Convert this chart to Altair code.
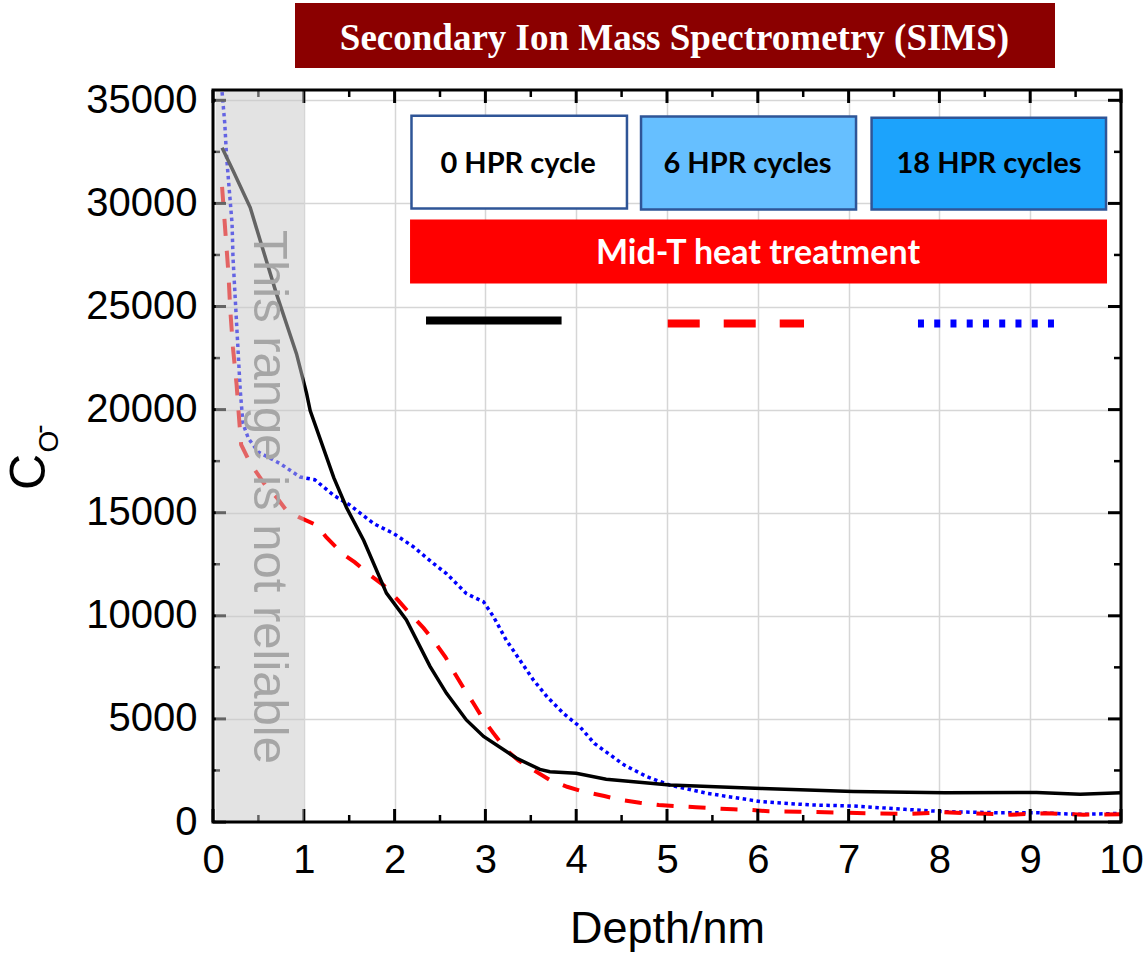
import altair as alt
import pandas as pd

# ---------------- data ----------------
black_x = [0.10, 0.22, 0.41, 0.52, 0.70, 0.92, 1.03, 1.07, 1.33, 1.47, 1.66, 1.91, 2.13, 2.39,
           2.57, 2.79, 2.98, 3.34, 3.60, 3.71, 4.00, 4.33, 5.03, 6.04, 7.05, 8.06, 9.07, 9.55, 10.0]
black_y = [32700, 31600, 29800, 28200, 25600, 22700, 20800, 19950, 16700, 15250, 13650, 11100, 9800, 7550,
           6250, 4950, 4150, 3100, 2550, 2440, 2360, 2070, 1800, 1630, 1480, 1420, 1430, 1350, 1420]

red_x = [0.10, 0.14, 0.17, 0.19, 0.22, 0.26, 0.29, 0.31, 0.41, 0.59, 0.70, 0.81, 0.94, 1.14, 1.25,
         1.43, 1.56, 1.73, 1.88, 2.04, 2.15, 2.32, 2.43, 2.56, 2.65, 2.76, 2.87, 2.98, 3.09, 3.23,
         3.36, 3.53, 3.71, 3.90, 4.08, 4.31, 4.49, 4.70, 4.91, 5.11, 5.32, 5.52, 5.73, 5.93, 6.12,
         6.45, 6.85, 7.25, 7.65, 8.05, 8.37, 8.78, 9.18, 9.59, 10.0]
red_y = [30800, 28400, 26600, 24850, 23000, 21200, 19400, 18300, 17400, 16250, 15750, 15100, 14800, 14400, 13800,
         13000, 12600, 11970, 11480, 10750, 10200, 9400, 8800, 8000, 7300, 6500, 5750, 4950, 4300, 3500,
         3000, 2520, 2040, 1710, 1470, 1260, 1070, 935, 825, 770, 712, 663, 615, 580, 520,
         500, 460, 420, 390, 470, 420, 355, 420, 355, 380]

blue_x = [0.10, 0.13, 0.15, 0.18, 0.21, 0.22, 0.24, 0.26, 0.28, 0.30, 0.33, 0.39, 0.50, 0.74, 0.96,
          1.12, 1.33, 1.51, 1.77, 1.99, 2.21, 2.43, 2.57, 2.79, 2.98, 3.09, 3.23, 3.38, 3.53, 3.68,
          3.86, 4.04, 4.20, 4.53, 4.78, 5.03, 5.44, 6.04, 6.59, 7.05, 7.62, 8.06, 8.65, 9.07, 9.55, 10.0]
blue_y = [35400, 33850, 32230, 30620, 29010, 27390, 25780, 24160, 22540, 20930, 19320, 18600, 17940, 17380, 16730,
          16600, 15840, 15360, 14470, 13990, 13340, 12530, 12050, 11080, 10675, 9950, 8820, 7850, 6880, 6070,
          5265, 4620, 3810, 2760, 2195, 1790, 1390, 985, 825, 775, 615, 500, 450, 450, 370, 420]

x_major = [0, 1, 2, 3, 4, 5, 6, 7, 8, 9, 10]
x_minor = [0.5, 1.5, 2.5, 3.5, 4.5, 5.5, 6.5, 7.5, 8.5, 9.5]
y_major = [0, 5000, 10000, 15000, 20000, 25000, 30000, 35000]
y_minor = [2500, 7500, 12500, 17500, 22500, 27500, 32500]

series_labels = ["0 HPR cycle", "6 HPR cycles", "18 HPR cycles"]
series_fills = ["#ffffff", "#66bfff", "#1ca3fc"]
box_x1 = [2.186, 4.714, 7.253]
box_x2 = [4.559, 7.082, 9.835]
box_y1 = [34250, 34210, 34160]
box_y2 = [29750, 29700, 29700]
box_text_x = [3.36, 5.887, 8.546]
box_text_y = [31490, 31490, 31490]

treat_label = "Mid-T heat treatment"
treat_box = [2.170, 9.846, 29215, 26115]
treat_text = [6.002, 27084]

leg_x1 = [2.346, 5.008, 7.764]
leg_x2 = [3.839, 6.509, 9.262]
leg_y = [24322, 24177, 24177]

shade_range = [0.03, 1.0]
shade_text = "This range is not reliable"

title_text = "Secondary Ion Mass Spectrometry (SIMS)"
xtitle_text = "Depth/nm"

# ---------------- layout ----------------
W, H = 908, 732
PAD = {"left": 213, "top": 90, "right": 24, "bottom": 131}

xsc = alt.Scale(domain=[0, 10], nice=False, zero=False)
ysc = alt.Scale(domain=[0, 35500], nice=False, zero=False)

xaxis = alt.Axis(values=x_major, format="d", grid=True, gridColor="#d6d6d6", gridWidth=1.5,
                 ticks=False, tickSize=0, domain=False, labelFontSize=40, labelFont="Liberation Sans",
                 labelColor="black", labelPadding=18, labelFlush=False, labelOverlap=False, title=None)
yaxis = alt.Axis(values=y_major, format="d", grid=True, gridColor="#d6d6d6", gridWidth=1.5,
                 ticks=False, tickSize=0, domain=False, labelFontSize=40, labelFont="Liberation Sans",
                 labelColor="black", labelPadding=16, labelOverlap=False, title=None)


def X(f="x"):
    return alt.X(f"{f}:Q", scale=xsc, axis=xaxis)


def Y(f="y"):
    return alt.Y(f"{f}:Q", scale=ysc, axis=yaxis)


one = pd.DataFrame({"a": [0]})

layers = []

# curves
layers.append(alt.Chart(pd.DataFrame({"x": blue_x, "y": blue_y})).mark_line(
    color="#0000ff", strokeWidth=3.5, strokeDash=[3.5, 3.5], clip=True).encode(x=X(), y=Y()))
layers.append(alt.Chart(pd.DataFrame({"x": red_x, "y": red_y})).mark_line(
    color="#ff0000", strokeWidth=4, strokeDash=[17, 15], clip=True).encode(x=X(), y=Y()))
layers.append(alt.Chart(pd.DataFrame({"x": black_x, "y": black_y})).mark_line(
    color="black", strokeWidth=3.5, clip=True).encode(x=X(), y=Y()))

# inward ticks
dxM = pd.DataFrame({"x": x_major})
dxm = pd.DataFrame({"x": x_minor})
dyM = pd.DataFrame({"y": y_major})
dym = pd.DataFrame({"y": y_minor})
layers.append(alt.Chart(dxM).mark_rule(color="black", strokeWidth=3).encode(x=X(), y=alt.value(H), y2=alt.value(H - 13)))
layers.append(alt.Chart(dxM).mark_rule(color="black", strokeWidth=3).encode(x=X(), y=alt.value(0), y2=alt.value(13)))
layers.append(alt.Chart(dxm).mark_rule(color="black", strokeWidth=2.5).encode(x=X(), y=alt.value(H), y2=alt.value(H - 7)))
layers.append(alt.Chart(dxm).mark_rule(color="black", strokeWidth=2.5).encode(x=X(), y=alt.value(0), y2=alt.value(7)))
layers.append(alt.Chart(dyM).mark_rule(color="black", strokeWidth=3).encode(y=Y(), x=alt.value(0), x2=alt.value(13)))
layers.append(alt.Chart(dyM).mark_rule(color="black", strokeWidth=3).encode(y=Y(), x=alt.value(W), x2=alt.value(W - 13)))
layers.append(alt.Chart(dym).mark_rule(color="black", strokeWidth=2.5).encode(y=Y(), x=alt.value(0), x2=alt.value(7)))
layers.append(alt.Chart(dym).mark_rule(color="black", strokeWidth=2.5).encode(y=Y(), x=alt.value(W), x2=alt.value(W - 7)))

# unreliable range shading
shade = pd.DataFrame({"x": [shade_range[0]], "x2": [shade_range[1]], "y": [0], "y2": [35500]})
layers.append(alt.Chart(shade).mark_rect(color="#c8c8c8", opacity=0.5).encode(
    x=X(), x2="x2:Q", y=Y(), y2="y2:Q"))
layers.append(alt.Chart(pd.DataFrame({"x": [0.45], "y": [15760], "t": [shade_text]})).mark_text(
    angle=90, align="center", baseline="alphabetic", fontSize=49, font="Liberation Sans", color="#a6a6a6"
).encode(x=X(), y=Y(), text="t:N"))

# legend boxes
boxes = pd.DataFrame({"x": box_x1, "x2": box_x2, "y": box_y1, "y2": box_y2, "fill": series_fills})
layers.append(alt.Chart(boxes).mark_rect(stroke="#2f5597", strokeWidth=2.5).encode(
    x=X(), x2="x2:Q", y=Y(), y2="y2:Q", fill=alt.Fill("fill:N", scale=None)))
layers.append(alt.Chart(pd.DataFrame({"x": box_text_x, "y": box_text_y, "t": series_labels})).mark_text(
    align="center", baseline="alphabetic", fontSize=29, font="Lato", fontWeight="bold", color="black"
).encode(x=X(), y=Y(), text="t:N"))
tb = pd.DataFrame({"x": [treat_box[0]], "x2": [treat_box[1]], "y": [treat_box[2]], "y2": [treat_box[3]]})
layers.append(alt.Chart(tb).mark_rect(color="#ff0000").encode(x=X(), x2="x2:Q", y=Y(), y2="y2:Q"))
layers.append(alt.Chart(pd.DataFrame({"x": [treat_text[0]], "y": [treat_text[1]], "t": [treat_label]})).mark_text(
    align="center", baseline="alphabetic", fontSize=34, font="Lato", fontWeight="bold", color="white"
).encode(x=X(), y=Y(), text="t:N"))

# legend line samples
layers.append(alt.Chart(pd.DataFrame({"x": [leg_x1[0]], "x2": [leg_x2[0]], "y": [leg_y[0]]})).mark_rule(
    color="black", strokeWidth=8).encode(x=X(), x2="x2:Q", y=Y()))
layers.append(alt.Chart(pd.DataFrame({"x": [leg_x1[1]], "x2": [leg_x2[1]], "y": [leg_y[1]]})).mark_rule(
    color="#ff0000", strokeWidth=8, strokeDash=[32, 24]).encode(x=X(), x2="x2:Q", y=Y()))
layers.append(alt.Chart(pd.DataFrame({"x": [leg_x1[2]], "x2": [leg_x2[2]], "y": [leg_y[2]]})).mark_rule(
    color="#0000ff", strokeWidth=8, strokeDash=[6, 10.25]).encode(x=X(), x2="x2:Q", y=Y()))

# frame
layers.append(alt.Chart(one).mark_rect(fillOpacity=0, stroke="black", strokeWidth=3).encode(
    x=alt.value(0), x2=alt.value(W), y=alt.value(0), y2=alt.value(H)))

# title banner
layers.append(alt.Chart(one).mark_rect(color="#8b0000").encode(
    x=alt.value(82), x2=alt.value(842), y=alt.value(-87), y2=alt.value(-22)))
layers.append(alt.Chart(pd.DataFrame({"t": [title_text]})).mark_text(
    align="center", baseline="alphabetic", fontSize=37, font="Liberation Serif", fontWeight="bold", color="white"
).encode(x=alt.value(461.5), y=alt.value(-40), text="t:N"))

# axis titles
layers.append(alt.Chart(pd.DataFrame({"t": [xtitle_text]})).mark_text(
    align="center", baseline="alphabetic", fontSize=45, font="Liberation Sans", color="black"
).encode(x=alt.value(454.5), y=alt.value(853), text="t:N"))
layers.append(alt.Chart(pd.DataFrame({"t": ["C"]})).mark_text(
    angle=270, align="center", baseline="alphabetic", fontSize=50, font="Liberation Sans", color="black"
).encode(x=alt.value(-168), y=alt.value(382), text="t:N"))
layers.append(alt.Chart(pd.DataFrame({"t": ["O"]})).mark_text(
    angle=270, align="center", baseline="alphabetic", fontSize=28, font="Liberation Sans", color="black"
).encode(x=alt.value(-155), y=alt.value(351.5), text="t:N"))
layers.append(alt.Chart(pd.DataFrame({"t": ["-"]})).mark_text(
    angle=270, align="center", baseline="alphabetic", fontSize=28, font="Liberation Sans", color="black"
).encode(x=alt.value(-165.5), y=alt.value(339), text="t:N"))

chart = alt.layer(*layers).properties(
    width=W, height=H, padding=PAD, autosize=alt.AutoSizeParams(type="none")
).configure_view(strokeWidth=0)

chart.save("out.html", embed_options={"renderer": "svg", "actions": False})
